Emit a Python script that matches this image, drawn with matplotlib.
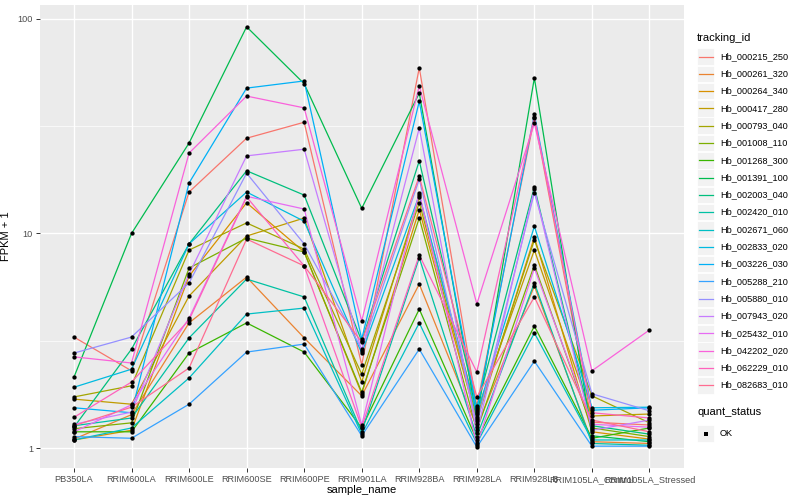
import numpy as np
import matplotlib
matplotlib.use("Agg")
from matplotlib import pyplot as plt
from matplotlib.lines import Line2D
from matplotlib.patches import Rectangle

plt.rcParams['font.family'] = ['Liberation Sans', 'DejaVu Sans']

samples = ['PB350LA', 'RRIM600LA', 'RRIM600LE', 'RRIM600SE', 'RRIM600PE', 'RRIM901LA',
           'RRIM928BA', 'RRIM928LA', 'RRIM928LB', 'RRIM105LA_Control', 'RRIM105LA_Stressed']

tracking_ids = ['Hb_000215_250', 'Hb_000261_320', 'Hb_000264_340', 'Hb_000417_280',
                'Hb_000793_040', 'Hb_001008_110', 'Hb_001268_300', 'Hb_001391_100',
                'Hb_002003_040', 'Hb_002420_010', 'Hb_002671_060', 'Hb_002833_020',
                'Hb_003226_030', 'Hb_005288_210', 'Hb_005880_010', 'Hb_007943_020',
                'Hb_025432_010', 'Hb_042202_020', 'Hb_062229_010', 'Hb_082683_010']

# FPKM + 1, one row per tracking_id, one column per sample
fpkm = [
    [3.29, 2.29, 15.6, 27.8, 33.0, 2.44, 59.2, 1.57, 34.6, 1.32, 1.28],
    [1.10, 1.43, 3.83, 6.26, 3.26, 1.75, 5.81, 1.25, 5.69, 1.07, 1.05],
    [1.09, 1.21, 6.33, 13.9, 8.20, 1.79, 12.9, 1.34, 9.63, 1.19, 1.10],
    [1.69, 1.60, 5.11, 9.73, 11.8, 2.03, 14.8, 1.47, 8.37, 1.41, 1.44],
    [1.73, 1.95, 8.37, 11.2, 8.46, 2.21, 13.9, 1.39, 9.33, 1.75, 1.31],
    [1.23, 1.31, 6.90, 9.52, 8.20, 1.82, 11.8, 1.21, 7.13, 1.24, 1.13],
    [1.19, 1.19, 2.77, 3.83, 2.80, 1.24, 4.44, 1.09, 3.70, 1.11, 1.24],
    [2.14, 10.0, 26.4, 91.9, 49.9, 13.1, 45.1, 1.37, 53.1, 1.14, 1.07],
    [1.25, 2.89, 8.94, 19.6, 15.1, 3.15, 21.8, 1.54, 16.5, 1.27, 1.16],
    [1.27, 1.38, 3.26, 6.13, 5.06, 1.19, 7.70, 1.13, 5.88, 1.05, 1.03],
    [1.09, 1.24, 2.12, 4.21, 4.49, 1.16, 3.83, 1.05, 3.44, 1.09, 1.09],
    [1.92, 2.33, 8.94, 15.6, 11.4, 2.77, 15.1, 1.44, 10.8, 1.54, 1.55],
    [1.54, 1.46, 17.2, 47.6, 51.4, 3.22, 41.3, 1.50, 36.0, 1.50, 1.54],
    [1.13, 1.11, 1.60, 2.80, 3.05, 1.14, 2.89, 1.01, 2.54, 1.02, 1.02],
    [2.77, 3.29, 5.88, 19.1, 8.94, 2.89, 17.9, 1.29, 15.5, 1.79, 1.49],
    [1.29, 1.47, 6.47, 23.0, 24.7, 2.83, 31.0, 1.17, 16.1, 1.21, 1.35],
    [1.19, 1.59, 4.03, 14.9, 13.0, 1.28, 15.5, 1.03, 6.90, 1.29, 1.25],
    [2.66, 2.49, 23.7, 43.7, 38.5, 3.91, 48.7, 4.69, 32.6, 2.29, 3.55],
    [1.39, 2.03, 3.95, 14.8, 7.06, 1.25, 7.93, 2.26, 35.0, 1.46, 1.38],
    [1.27, 1.55, 2.36, 9.42, 7.06, 3.12, 18.5, 1.73, 5.06, 1.35, 1.19],
]

# ggplot2 default hue palette for 20 groups
colors = ['#F8766D', '#EA8331', '#D89000', '#C09B00', '#A3A500', '#7CAE00', '#39B600',
          '#00BB4E', '#00BF7D', '#00C1A3', '#00BFC4', '#00BAE0', '#00B0F6', '#35A2FF',
          '#9590FF', '#C77CFF', '#E76BF3', '#FA62DB', '#FF62BC', '#FF6C91']

W, H = 800, 500
fig = plt.figure(figsize=(8, 5), dpi=100)
fig.patch.set_facecolor('white')

# panel in pixel coords: x 40..684, y 5..468
ax = fig.add_axes([40 / W, 1 - 468 / H, (684 - 40) / W, (468 - 5) / H])
ax.set_facecolor('#EBEBEB')
ax.set_yscale('log')

x = np.arange(len(samples))
for vals, c in zip(fpkm, colors):
    ax.plot(x, vals, color=c, lw=0.9, zorder=3)
for vals in fpkm:
    ax.plot(x, vals, 'o', color='black', ms=3.1, zorder=4, markeredgewidth=0)

ax.set_xlim(-0.59, 10.6)
ax.set_ylim(10 ** -0.0932, 10 ** 2.065)

ax.set_yticks([1, 10, 100])
ax.set_yticklabels(['1', '10', '100'])
ax.set_yticks([10 ** 0.5, 10 ** 1.5], minor=True)
ax.yaxis.set_minor_formatter(matplotlib.ticker.NullFormatter())
ax.set_xticks(x)
ax.set_xticklabels(samples)

ax.grid(True, which='major', color='white', lw=1.0, zorder=1)
ax.grid(True, which='minor', axis='y', color='white', lw=0.5, zorder=1)
ax.tick_params(which='major', length=3, width=0.7, color='#333333',
               labelsize=6.6, labelcolor='#4D4D4D', pad=2)
ax.tick_params(which='minor', length=0)
for s in ax.spines.values():
    s.set_visible(False)

ax.set_xlabel('sample_name', fontsize=8, labelpad=1)
ax.set_ylabel('FPKM + 1', fontsize=8, labelpad=5)

# legend drawn in pixel coordinates
lg = fig.add_axes([0, 0, 1, 1])
lg.set_xlim(0, W)
lg.set_ylim(H, 0)
lg.axis('off')
lg.text(697, 38, 'tracking_id', fontsize=8, va='center', ha='left')
y0, dy = 56.5, 17.3
for i, (tid, c) in enumerate(zip(tracking_ids, colors)):
    yc = y0 + i * dy
    lg.add_patch(Rectangle((697, yc - 8.3), 17, 16.6, facecolor='#F2F2F2', edgecolor='white', lw=0.6))
    lg.add_line(Line2D([698.5, 712.5], [yc, yc], color=c, lw=0.9))
    lg.text(720, yc, tid, fontsize=6.6, va='center', ha='left')
lg.text(697, 412, 'quant_status', fontsize=8, va='center', ha='left')
lg.add_patch(Rectangle((697, 425), 17, 17, facecolor='#F2F2F2', edgecolor='white', lw=0.6))
lg.add_line(Line2D([705.5], [433.5], marker='s', color='black', ms=2.8, markeredgewidth=0))
lg.text(720, 433.5, 'OK', fontsize=6.6, va='center', ha='left')

fig.savefig('out.png', dpi=100)
